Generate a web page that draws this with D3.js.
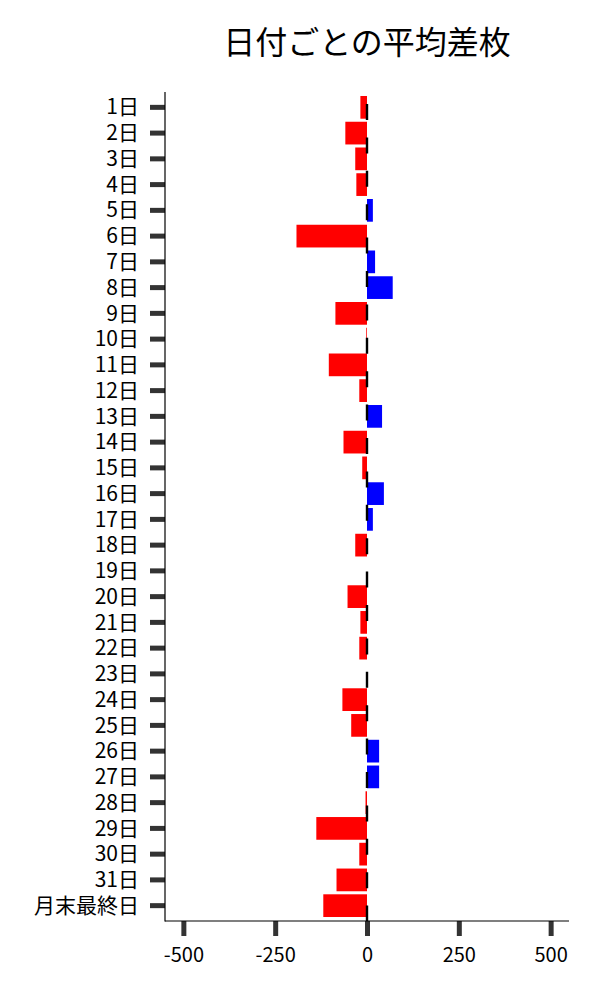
<!DOCTYPE html>
<html>
<head>
<meta charset="utf-8">
<script src="https://cdn.jsdelivr.net/npm/d3@7"></script>
<style>
  body { margin: 0; background: #fff; }
  svg { display: block; font-family: "Noto Sans CJK JP", "Noto Sans", sans-serif; }
</style>
</head>
<body>
<svg id="chart" width="600" height="1000"></svg>
<script>
const title = "日付ごとの平均差枚";
const days = ["1日","2日","3日","4日","5日","6日","7日","8日","9日","10日",
  "11日","12日","13日","14日","15日","16日","17日","18日","19日","20日",
  "21日","22日","23日","24日","25日","26日","27日","28日","29日","30日",
  "31日","月末最終日"];
const avgDiff = [-18,-59,-32,-29,16,-192,22,70,-86,-2,
  -104,-21,41,-64,-13,46,16,-32,0,-53,
  -18,-21,0,-67,-43,33,33,-4,-138,-21,
  -83,-119];
const xTicks = [-500,-250,0,250,500];
const xDomain = [-550, 550];

(function () {
const svg = d3.select("#chart");
const mLeft = 165, mRight = 569, mTop = 92, mBottom = 921;

const x = d3.scaleLinear().domain(xDomain).range([mLeft, mRight]);
const y = d3.scaleBand().domain(days).range([mTop, mBottom])
  .paddingInner(0.118).paddingOuter(0.155);

// bars
svg.append("g").selectAll("rect").data(avgDiff).join("rect")
  .attr("x", d => x(Math.min(0, d)))
  .attr("width", d => Math.abs(x(d) - x(0)))
  .attr("y", (d, i) => y(days[i]))
  .attr("height", y.bandwidth())
  .attr("fill", d => d >= 0 ? "#0000ff" : "#ff0000");

// zero dashed line
svg.append("line")
  .attr("x1", x(0)).attr("x2", x(0))
  .attr("y1", mTop).attr("y2", mBottom)
  .attr("stroke", "#000").attr("stroke-width", 2.4)
  .attr("stroke-dasharray", "16 17.4")
  .attr("stroke-dashoffset", 21.4);

// y axis
const yAxis = svg.append("g").attr("transform", `translate(${mLeft},0)`)
  .call(d3.axisLeft(y).tickSizeInner(15).tickSizeOuter(0).tickPadding(11));
yAxis.select(".domain").remove();
yAxis.selectAll(".tick line").attr("stroke", "#333").attr("stroke-width", 5);
yAxis.selectAll(".tick text").attr("font-size", 21).attr("fill", "#000")
  .attr("dy", "0.34em")
  .attr("font-family", "Noto Sans CJK JP");

// x axis
const xAxis = svg.append("g").attr("transform", `translate(0,${mBottom})`)
  .call(d3.axisBottom(x).tickValues(xTicks).tickFormat(d => String(d))
    .tickSizeInner(15).tickSizeOuter(0).tickPadding(12));
xAxis.select(".domain").remove();
xAxis.selectAll(".tick line").attr("stroke", "#333").attr("stroke-width", 5);
xAxis.selectAll(".tick text").attr("font-size", 20).attr("fill", "#000")
  .attr("font-family", "Noto Sans CJK JP");

// spines
svg.append("line").attr("x1", mLeft).attr("x2", mLeft).attr("y1", mTop).attr("y2", mBottom + 0.5)
  .attr("stroke", "#000").attr("stroke-width", 1.2);
svg.append("line").attr("x1", mLeft).attr("x2", mRight).attr("y1", mBottom).attr("y2", mBottom)
  .attr("stroke", "#000").attr("stroke-width", 1.2);

// title
svg.append("text").attr("x", (mLeft + mRight) / 2).attr("y", 54)
  .attr("text-anchor", "middle").attr("font-size", 32)
  .attr("font-family", "Noto Sans CJK JP").attr("fill", "#000")
  .text(title);
})();
</script>
</body>
</html>
